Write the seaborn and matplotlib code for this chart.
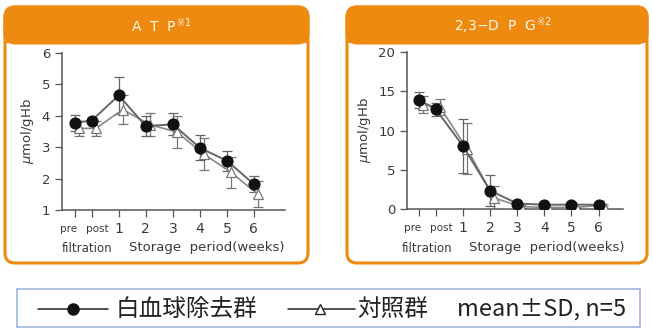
import matplotlib
matplotlib.use("Agg")
import matplotlib.pyplot as plt
import seaborn as sns
import numpy as np
import pandas as pd
from matplotlib.patches import FancyBboxPatch, Rectangle
from matplotlib.lines import Line2D

sns.set_theme(style="white")
plt.rcParams['font.family'] = ['DejaVu Sans', 'Noto Sans CJK JP']

# ---------------- data ----------------
timepoints = ["pre", "post", "1", "2", "3", "4", "5", "6"]
groups = ["白血球除去群", "対照群"]

atp_lr = [3.78, 3.85, 4.65, 3.67, 3.73, 2.98, 2.57, 1.82]
atp_lr_sd = [0.25, 0.08, 0.58, 0.32, 0.35, 0.40, 0.32, 0.26]
atp_ct = [3.60, 3.60, 4.20, 3.72, 3.48, 2.78, 2.20, 1.50]
atp_ct_sd = [0.25, 0.25, 0.45, 0.37, 0.50, 0.50, 0.50, 0.42]

dpg_lr = [13.9, 12.7, 8.05, 2.35, 0.70, 0.55, 0.55, 0.55]
dpg_lr_sd = [1.05, 0.85, 3.45, 2.0, 0.15, 0.10, 0.10, 0.10]
dpg_ct = [13.3, 13.0, 7.7, 1.4, 0.30, 0.20, 0.20, 0.50]
dpg_ct_sd = [1.05, 1.05, 3.3, 1.5, 0.15, 0.10, 0.10, 0.10]

# category -> axis position
x_map = {"pre": -0.62, "post": 0.0, "1": 1, "2": 2, "3": 3, "4": 4, "5": 5, "6": 6}
label_shift = {"pre": -0.22, "post": 0.22}

ORANGE = "#EE8A10"
GRAY = "#555555"
TXT = "#3a3a3a"

fig = plt.figure(figsize=(6.53, 3.31), dpi=100)
W, H = 653, 331

def fx(px):
    return px / W

def fy(py):
    return 1 - py / H

# ---------------- panel frames ----------------
def panel(x0, x1, y0, y1, hdr, title, tx):
    r = 10
    box = FancyBboxPatch((fx(x0 + r), fy(y1 - r)), fx(x1 - x0 - 2 * r), (y1 - y0 - 2 * r) / H,
                         boxstyle=f"round,pad={r / W},rounding_size={r / W}",
                         transform=fig.transFigure, facecolor="white", edgecolor=ORANGE,
                         linewidth=2.2, mutation_aspect=W / H, zorder=0)
    fig.patches.append(box)
    head = FancyBboxPatch((fx(x0 + r), fy(hdr - r)), fx(x1 - x0 - 2 * r), (hdr - y0 - 2 * r) / H,
                          boxstyle=f"round,pad={r / W},rounding_size={r / W}",
                          transform=fig.transFigure, facecolor=ORANGE, edgecolor=ORANGE,
                          linewidth=2.2, mutation_aspect=W / H, zorder=0)
    fig.patches.append(head)
    fig.patches.append(Rectangle((fx(x0), fy(hdr)), fx(x1 - x0), 12 / H, transform=fig.transFigure,
                                 facecolor=ORANGE, edgecolor=ORANGE, linewidth=0, zorder=0))
    fig.text(fx(tx), fy(26), title, color="#FFF6EA", fontsize=10,
             ha="center", va="center")

panel(5, 308, 7, 263, 43, r"A  T  P$^{\,※1}$", 162)
panel(347, 647, 7, 263, 43, r"2,3−D  P  G$^{\,※2}$", 503)

# ---------------- axes ----------------
def draw(ax, lr, lr_sd, ct, ct_sd, ylim, yticks, xlim):
    xs = np.array([x_map[t] for t in timepoints])
    df = pd.DataFrame({
        "x": np.concatenate([xs, xs + 0.15]),
        "y": np.concatenate([lr, ct]),
        "g": [groups[0]] * len(xs) + [groups[1]] * len(xs),
    })
    ax.errorbar(xs + 0.15, ct, yerr=ct_sd, fmt="none", ecolor="#777777", elinewidth=0.9,
                capsize=3.5, capthick=0.9, zorder=2)
    ax.errorbar(xs, lr, yerr=lr_sd, fmt="none", ecolor="#666666", elinewidth=0.9,
                capsize=3.5, capthick=0.9, zorder=3)
    sns.lineplot(data=df[df.g == groups[1]], x="x", y="y", ax=ax, color="#888888", lw=1.2,
                 marker="^", markersize=7, markerfacecolor="white", markeredgecolor="#777777",
                 markeredgewidth=0.9, legend=False, zorder=4)
    sns.lineplot(data=df[df.g == groups[0]], x="x", y="y", ax=ax, color="#666666", lw=1.4,
                 marker="o", markersize=8, markerfacecolor="#111111", markeredgecolor="#111111",
                 legend=False, zorder=5)
    ax.set_xlim(*xlim)
    ax.set_ylim(*ylim)
    ax.set_yticks(yticks)
    ax.set_xticks(xs)
    ax.set_xticklabels([])
    ax.set_xlabel("")
    ax.set_ylabel(r"$\mathit{\mu}$mol/gHb", fontsize=9.5, color=TXT, labelpad=4)
    for s in ["top", "right"]:
        ax.spines[s].set_visible(False)
    for s in ["left", "bottom"]:
        ax.spines[s].set_color(GRAY)
        ax.spines[s].set_linewidth(1.1)
    ax.tick_params(axis="both", direction="out", length=5, width=0.9, color=GRAY,
                   labelsize=9.5, labelcolor=TXT, left=True, bottom=True)
    ax.patch.set_alpha(0)
    ax.set_zorder(3)
    for t in timepoints:
        small = t in ("pre", "post")
        ax.text(x_map[t] + label_shift.get(t, 0), -0.12, t, transform=ax.get_xaxis_transform(),
                ha="center", va="center", fontsize=7.5 if small else 10, color=TXT)

ax1 = fig.add_axes([fx(62), fy(210), fx(223), 157 / H])
draw(ax1, atp_lr, atp_lr_sd, atp_ct, atp_ct_sd, (1, 6), [1, 2, 3, 4, 5, 6], (-1.1, 7.15))
ax2 = fig.add_axes([fx(407), fy(209), fx(216), 157 / H])
draw(ax2, dpg_lr, dpg_lr_sd, dpg_ct, dpg_ct_sd, (0, 20), [0, 5, 10, 15, 20], (-1.06, 6.9))

for xf, xs0 in [(87, 207), (427, 547)]:
    fig.text(fx(xf), fy(248), "filtration", fontsize=8.5, color=TXT, ha="center", va="center")
    fig.text(fx(xs0), fy(248), "Storage  period(weeks)", fontsize=9.5, color=TXT,
             ha="center", va="center")

# ---------------- legend ----------------
fig.patches.append(Rectangle((fx(17), fy(327)), fx(623), 38 / H, transform=fig.transFigure,
                             facecolor="white", edgecolor="#9DB6E2", linewidth=1.2))
ly = fy(309)
CJK = ['Noto Sans CJK JP', 'DejaVu Sans']
fig.lines.append(Line2D([fx(38), fx(108)], [ly, ly], transform=fig.transFigure, color="#222222", lw=1.1))
fig.lines.append(Line2D([fx(73)], [ly], transform=fig.transFigure, marker="o", markersize=8,
                        color="#111111", lw=0))
fig.text(fx(116), ly, groups[0], fontsize=17, family=CJK, va="center", ha="left", color="#222222")
fig.lines.append(Line2D([fx(288), fx(355)], [ly, ly], transform=fig.transFigure, color="#222222", lw=1.1))
fig.lines.append(Line2D([fx(320)], [ly], transform=fig.transFigure, marker="^", markersize=7,
                        markerfacecolor="white", markeredgecolor="#222222", lw=0))
fig.text(fx(357), ly, groups[1], fontsize=17, family=CJK, va="center", ha="left", color="#222222")
fig.text(fx(457), ly, "mean±SD, n=5", fontsize=17, family=CJK, va="center", ha="left", color="#222222")

fig.savefig("out.png", dpi=100)
